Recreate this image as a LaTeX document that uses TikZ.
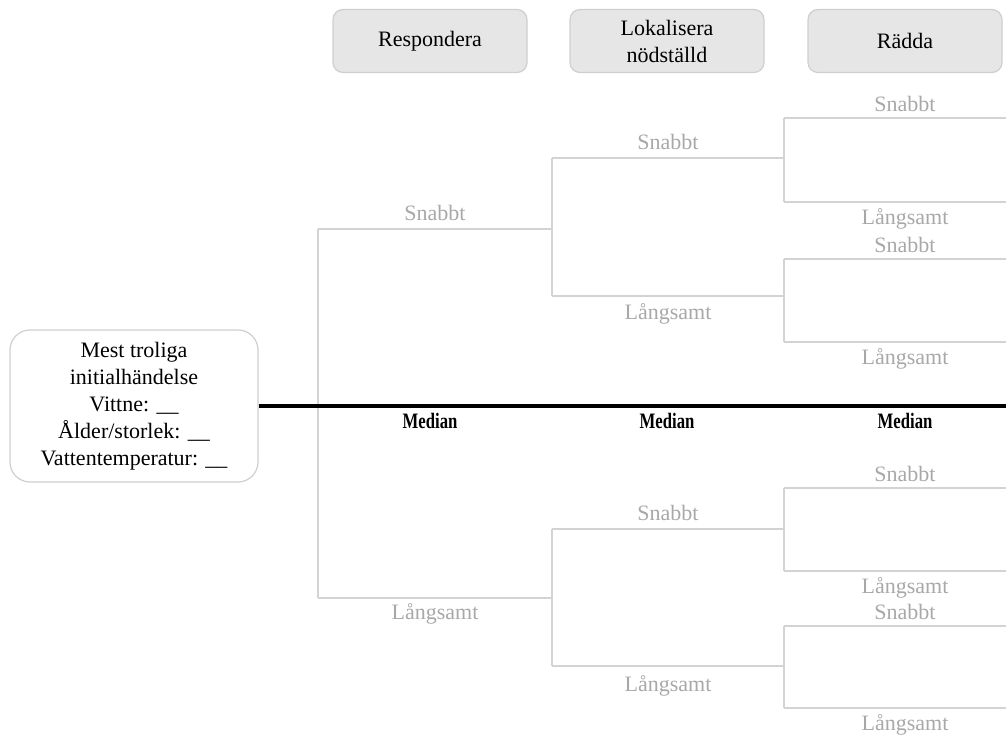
\documentclass[tikz,border=0pt]{standalone}
\usepackage{fontspec}
\setmainfont{Liberation Serif}
\newfontfamily\medianfont[FakeStretch=0.76]{Liberation Serif}
\usetikzlibrary{positioning}
\definecolor{headfill}{HTML}{E6E6E6}
\definecolor{headline}{HTML}{CFCFCF}
\definecolor{branch}{HTML}{D3D3D3}
\definecolor{branchtext}{HTML}{A8A8A8}
\tikzset{
    head/.style={draw=headline, fill=headfill, line width=1.2pt, rounded corners=10pt,
        minimum width=194pt, minimum height=63pt, align=center, inner sep=0pt},
    start/.style={draw=headline, fill=white, line width=1.2pt, rounded corners=20pt,
        minimum width=248pt, minimum height=152pt, align=center, inner sep=0pt},
    branchline/.style={draw=branch, line width=1.4pt},
    lbl/.style={text=branchtext, inner sep=0pt},
    med/.style={font=\medianfont\bfseries\fontsize{22}{27}\selectfont, inner sep=0pt}
}
\begin{document}
\begin{tikzpicture}[x=1pt, y=-1pt]
    \tikzstyle{every node}+=[font=\fontsize{22}{27}\selectfont]
    \useasboundingbox (0,0) rectangle (1006,737);
    % column heads
    \node[head] (resp) at (430,41) {Respondera};
    \node[head] (lok) at (667,41) {Lokalisera\\nödställd};
    \node[head] (radd) at (905,41) {Rädda};
    % start event
    \node[start] (init) at (134,406) {Mest troliga\\initialhändelse\\Vittne: \_\_\\Ålder/storlek: \_\_\\Vattentemperatur: \_\_};
    \coordinate (end) at (1006,406);
    % first split
    \coordinate (r1) at (318,229);
    \coordinate (r2) at (318,598);
    \coordinate (s) at (552,229);
    \coordinate (l) at (552,598);
    \draw[branchline] (r1) -- (r2);
    \draw[branchline] (r1) -- node[lbl, yshift=16pt] {Snabbt} (s);
    \draw[branchline] (r2) -- node[lbl, yshift=-16pt] {Långsamt} (l);
    % second split
    \coordinate (ss) at (552,158);
    \coordinate (sl) at (552,296);
    \coordinate (ls) at (552,529);
    \coordinate (ll) at (552,666);
    \coordinate (a) at (784,158);
    \coordinate (b) at (784,296);
    \coordinate (c) at (784,529);
    \coordinate (d) at (784,666);
    \draw[branchline] (ss) -- (sl);
    \draw[branchline] (ls) -- (ll);
    \draw[branchline] (ss) -- node[lbl, yshift=16pt] {Snabbt} (a);
    \draw[branchline] (sl) -- node[lbl, yshift=-18pt] {Långsamt} (b);
    \draw[branchline] (ls) -- node[lbl, yshift=16pt] {Snabbt} (c);
    \draw[branchline] (ll) -- node[lbl, yshift=-20pt] {Långsamt} (d);
    % third split
    \foreach \n/\top/\bot in {a/118/202, b/259/342, c/488/571, d/626/708} {
        \coordinate (\n1) at (784,\top);
        \coordinate (\n2) at (784,\bot);
        \coordinate (\n1e) at (1006,\top);
        \coordinate (\n2e) at (1006,\bot);
        \draw[branchline] (\n1) -- (\n2);
        \draw[branchline] (\n1) -- node[lbl, pos=0.545, yshift=14pt] {Snabbt} (\n1e);
        \draw[branchline] (\n2) -- node[lbl, pos=0.545, yshift=-17pt] {Långsamt} (\n2e);
    }
    % median path
    \draw[line width=3.2pt] (init.east) -- (end);
    \node[med] (m1) at (430,421) {Median};
    \node[med] (m2) at (667,421) {Median};
    \node[med] (m3) at (905,421) {Median};
\end{tikzpicture}
\end{document}
